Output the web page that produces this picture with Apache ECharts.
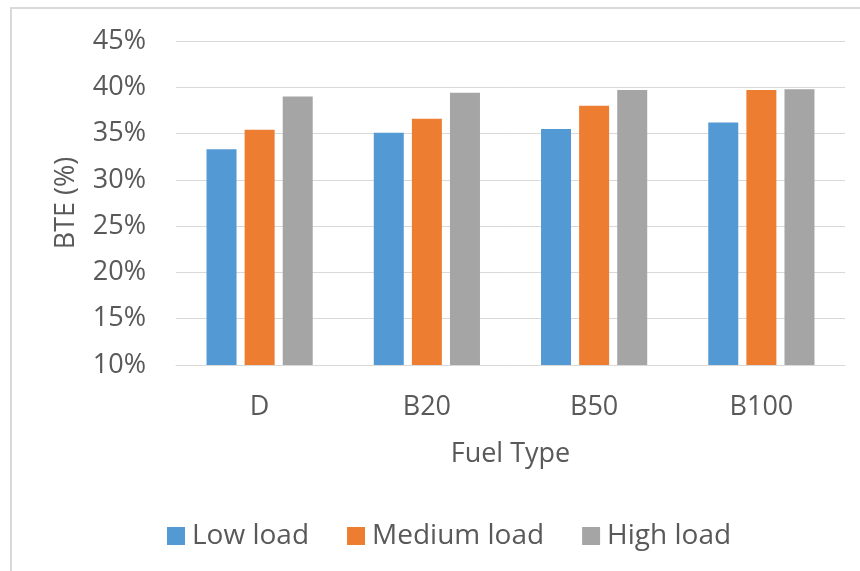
<!DOCTYPE html>
<html>
<head>
<meta charset="utf-8">
<script src="https://cdn.jsdelivr.net/npm/echarts@6/dist/echarts.min.js"></script>
<style>html,body{margin:0;padding:0;background:#fff;}#c{width:860px;height:571px;}</style>
</head>
<body>
<div id="c"></div>
<script>
var categories = ['D', 'B20', 'B50', 'B100'];
var seriesNames = ['Low load', 'Medium load', 'High load'];
var lowLoad = [33.3, 35.1, 35.5, 36.2];
var mediumLoad = [35.4, 36.6, 38.0, 39.7];
var highLoad = [39.0, 39.4, 39.7, 39.8];
var colors = ['#5399D4', '#ED7D31', '#A5A5A5'];
var yMin = 10, yMax = 45, yStep = 5;

var font = '"Open Sans", sans-serif';
var txt = '#595959';
var fs = 27;
var chart = echarts.init(document.getElementById('c'), null, {renderer: 'canvas'});
var values = [lowLoad, mediumLoad, highLoad];
chart.setOption({
  animation: false,
  color: colors,
  textStyle: {fontFamily: font},
  graphic: [{
    type: 'rect', shape: {x: 11, y: 8, width: 900, height: 620},
    style: {fill: 'none', stroke: '#D9D9D9', lineWidth: 2}, silent: true
  }],
  grid: {left: 176, right: 15, top: 41, bottom: 206},
  legend: {
    left: 162, top: 517, itemWidth: 18, itemHeight: 18, itemGap: 38,
    icon: 'rect',
    textStyle: {fontSize: 28, color: txt, fontFamily: font, padding: [0, 0, 0, 2]},
    data: seriesNames
  },
  xAxis: {
    type: 'category', data: categories,
    name: 'Fuel Type', nameLocation: 'middle', nameGap: 76,
    nameTextStyle: {fontSize: fs, color: txt, fontFamily: font},
    axisLine: {lineStyle: {color: '#D9D9D9', width: 1}},
    axisTick: {show: false},
    axisLabel: {fontSize: fs, color: txt, margin: 29, fontFamily: font}
  },
  yAxis: {
    type: 'value', min: yMin, max: yMax, interval: yStep,
    name: 'BTE (%)', nameLocation: 'middle', nameGap: 96, nameRotate: 90,
    nameTextStyle: {fontSize: fs, color: txt, fontFamily: font},
    axisLine: {show: false}, axisTick: {show: false},
    axisLabel: {fontSize: fs, color: txt, margin: 30, formatter: '{value}%', fontFamily: font},
    splitLine: {lineStyle: {color: '#D9D9D9', width: 1}}
  },
  series: seriesNames.map(function (n, i) {
    return {name: n, type: 'bar', data: values[i], barWidth: 30, barGap: '27%'};
  })
});
</script>
</body>
</html>
